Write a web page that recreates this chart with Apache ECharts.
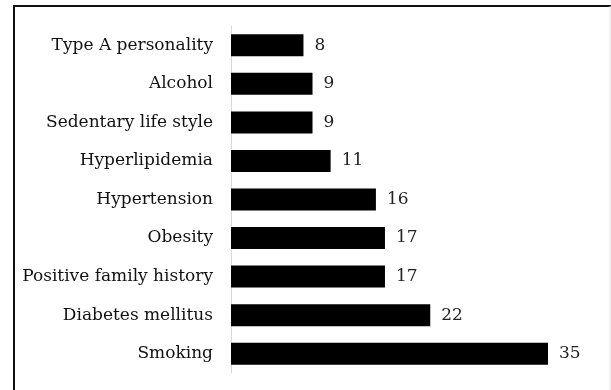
<!DOCTYPE html>
<html>
<head>
<meta charset="utf-8">
<script src="https://cdn.jsdelivr.net/npm/echarts@6/dist/echarts.min.js"></script>
<style>
html,body{margin:0;padding:0;background:#fff;}
#chart{width:611px;height:390px;}
</style>
</head>
<body>
<div id="chart"></div>
<script>
// 危险因素（从上到下）
var factors = ['Type A personality', 'Alcohol', 'Sedentary life style', 'Hyperlipidemia', 'Hypertension', 'Obesity', 'Positive family history', 'Diabetes mellitus', 'Smoking'];
var counts = [8, 9, 9, 11, 16, 17, 17, 22, 35];

var myChart = echarts.init(document.getElementById('chart'));
var option = {
	animation: false,
	backgroundColor: '#fff',
	graphic: [{
		type: 'rect',
		shape: { x: 14, y: 6, width: 700, height: 500 },
		style: { fill: 'none', stroke: '#111', lineWidth: 2 }
	}, {
		type: 'line',
		shape: { x1: 610, y1: 6, x2: 610, y2: 390 },
		style: { stroke: '#e6e6e6', lineWidth: 1 }
	}],
	grid: {
		left: 231,
		top: 26,
		width: 317,
		height: 347
	},
	xAxis: {
		type: 'value',
		min: 0,
		max: 35,
		show: false
	},
	yAxis: {
		type: 'category',
		inverse: true,
		data: factors,
		axisLine: { show: true, lineStyle: { color: '#d9d9d9', width: 1 } },
		axisTick: { show: false },
		axisLabel: {
			margin: 18,
			color: '#111',
			fontSize: 17,
			fontFamily: 'DejaVu Serif'
		}
	},
	series: [{
		type: 'bar',
		data: counts,
		barWidth: 22,
		itemStyle: { color: '#000' },
		label: {
			show: true,
			position: 'right',
			distance: 11,
			color: '#222',
			fontSize: 17,
			fontFamily: 'DejaVu Serif'
		}
	}]
};
myChart.setOption(option);
</script>
</body>
</html>
